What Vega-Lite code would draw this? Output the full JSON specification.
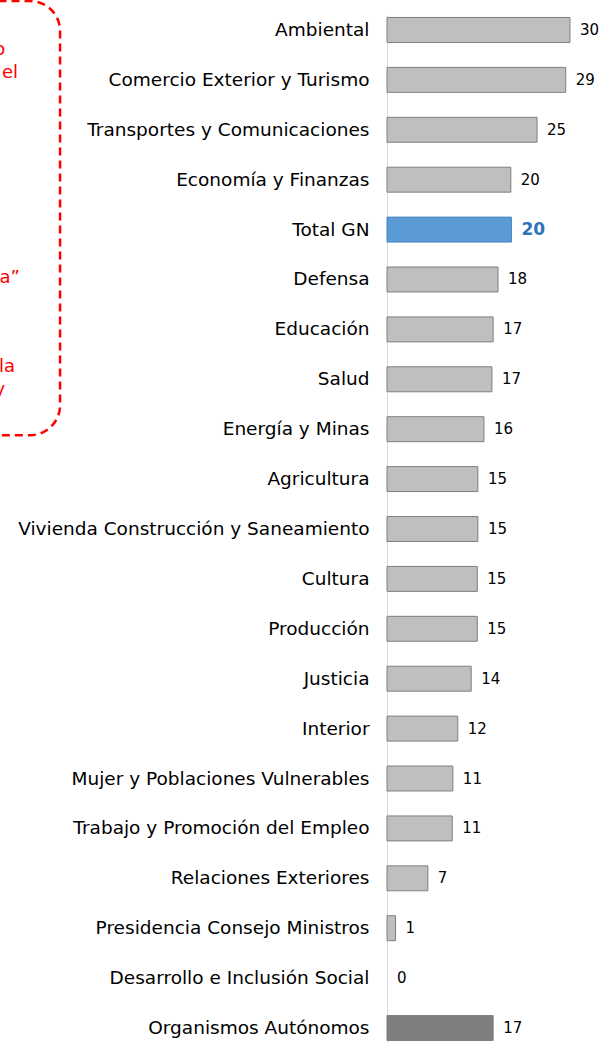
{
  "$schema": "https://vega.github.io/schema/vega-lite/v6.json",
  "autosize": {"type": "none"},
  "padding": {"left": 387, "top": 15, "right": 0, "bottom": 0},
  "width": 228,
  "height": 1028,
  "background": "white",
  "config": {"view": {"stroke": null}, "font": "DejaVu Sans"},
  "layer": [
    {
      "data": {"values": [
        {"categoria": "Ambiental", "valor": 30.0, "grupo": "sector"},
        {"categoria": "Comercio Exterior y Turismo", "valor": 29.3, "grupo": "sector"},
        {"categoria": "Transportes y Comunicaciones", "valor": 24.6, "grupo": "sector"},
        {"categoria": "Economía y Finanzas", "valor": 20.3, "grupo": "sector"},
        {"categoria": "Total GN\u00a0", "valor": 20.4, "grupo": "total"},
        {"categoria": "Defensa", "valor": 18.2, "grupo": "sector"},
        {"categoria": "Educación", "valor": 17.4, "grupo": "sector"},
        {"categoria": "Salud", "valor": 17.2, "grupo": "sector"},
        {"categoria": "Energía y Minas", "valor": 15.9, "grupo": "sector"},
        {"categoria": "Agricultura", "valor": 14.9, "grupo": "sector"},
        {"categoria": "Vivienda Construcción y Saneamiento", "valor": 14.9, "grupo": "sector"},
        {"categoria": "Cultura", "valor": 14.8, "grupo": "sector"},
        {"categoria": "Producción", "valor": 14.8, "grupo": "sector"},
        {"categoria": "Justicia", "valor": 13.8, "grupo": "sector"},
        {"categoria": "Interior", "valor": 11.6, "grupo": "sector"},
        {"categoria": "Mujer y Poblaciones Vulnerables", "valor": 10.8, "grupo": "sector"},
        {"categoria": "Trabajo y Promoción del Empleo", "valor": 10.7, "grupo": "sector"},
        {"categoria": "Relaciones Exteriores", "valor": 6.7, "grupo": "sector"},
        {"categoria": "Presidencia Consejo Ministros", "valor": 1.4, "grupo": "sector"},
        {"categoria": "Desarrollo e Inclusión Social", "valor": 0, "grupo": "sector"},
        {"categoria": "Organismos Autónomos", "valor": 17.4, "grupo": "autonomo"}
      ]},
      "encoding": {
        "y": {
          "field": "categoria", "type": "nominal", "sort": null,
          "scale": {"paddingInner": 0.5, "paddingOuter": 0.05},
          "axis": {
            "title": null, "ticks": false, "domainColor": "#d9d9d9", "domainWidth": 1,
            "labelFont": "DejaVu Sans", "labelFontSize": 18.5, "labelColor": "#000000",
            "labelPadding": 18, "labelLimit": 500
          }
        },
        "x": {
          "field": "valor", "type": "quantitative",
          "scale": {"domain": [0, 37.38], "nice": false, "zero": true},
          "axis": null
        }
      },
      "layer": [
        {
          "mark": {"type": "bar", "strokeWidth": 1},
          "encoding": {
            "color": {
              "field": "grupo", "type": "nominal", "legend": null,
              "scale": {"domain": ["sector", "total", "autonomo"], "range": ["#bfbfbf", "#5b9bd5", "#7f7f7f"]}
            },
            "stroke": {
              "field": "grupo", "type": "nominal", "legend": null,
              "scale": {"domain": ["sector", "total", "autonomo"], "range": ["#7f7f7f", "#4a86c0", "#7f7f7f"]}
            },
            "strokeOpacity": {"condition": {"test": "datum.valor === 0", "value": 0}, "value": 1}
          }
        },
        {
          "transform": [{"filter": "datum.grupo !== 'total'"}],
          "mark": {"type": "text", "align": "left", "baseline": "middle", "dx": 10, "font": "DejaVu Sans", "fontSize": 15, "color": "#000000"},
          "encoding": {
            "text": {"field": "valor", "type": "quantitative", "format": ".0f"}
          }
        },
        {
          "transform": [{"filter": "datum.grupo === 'total'"}],
          "mark": {"type": "text", "align": "left", "baseline": "middle", "dx": 10, "font": "DejaVu Sans", "fontSize": 17, "fontWeight": "bold", "color": "#2e75b6"},
          "encoding": {
            "text": {"field": "valor", "type": "quantitative", "format": ".0f"}
          }
        }
      ]
    },
    {
      "layer": [
        {
          "data": {"values": [{"x0": -75, "x1": -53.6, "y0": -0.58, "y1": 8.12}]},
          "mark": {"type": "rect", "fill": null, "stroke": "#ff0000", "strokeWidth": 2.5, "strokeDash": [8, 5], "cornerRadius": 30},
          "encoding": {
            "x": {"field": "x0", "type": "quantitative", "scale": {"domain": [0, 37.38], "nice": false}, "axis": null},
            "x2": {"field": "x1"},
            "y": {"field": "y0", "type": "quantitative", "scale": {"domain": [-0.3, 20.3], "nice": false, "zero": false, "reverse": true}, "axis": null},
            "y2": {"field": "y1"}
          }
        },
        {
          "data": {"values": [
            {"t": "o", "x": -62.6, "y": 0.40},
            {"t": "el", "x": -60.5, "y": 0.86},
            {"t": "a”", "x": -60.2, "y": 4.97},
            {"t": "la", "x": -61.0, "y": 6.75},
            {"t": "y", "x": -62.6, "y": 7.21}
          ]},
          "mark": {"type": "text", "align": "right", "baseline": "middle", "color": "#ff0000", "fontSize": 18, "font": "DejaVu Sans"},
          "encoding": {
            "x": {"field": "x", "type": "quantitative", "scale": {"domain": [0, 37.38], "nice": false}, "axis": null},
            "y": {"field": "y", "type": "quantitative", "scale": {"domain": [-0.3, 20.3], "nice": false, "zero": false, "reverse": true}, "axis": null},
            "text": {"field": "t"}
          }
        }
      ]
    }
  ],
  "resolve": {"scale": {"y": "independent"}}
}
